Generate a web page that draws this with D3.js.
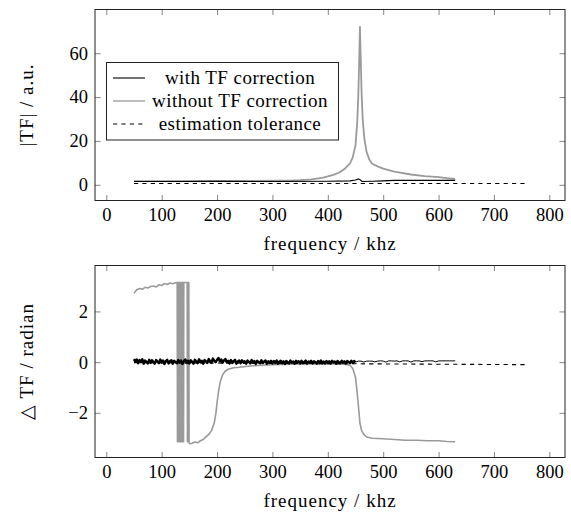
<!DOCTYPE html>
<html>
<head>
<meta charset="utf-8">
<script src="https://cdn.jsdelivr.net/npm/d3@7"></script>
<style>
  body { margin: 0; background: #fff; }
  svg { display: block; }
</style>
</head>
<body>
<svg id="chart" width="571" height="515"></svg>
<script>
// ---- data ----
const xTicks = [0, 100, 200, 300, 400, 500, 600, 700, 800];
const magTicks = [0, 20, 40, 60];
const phaseTicks = [-2, 0, 2];

const legendLabels = ["with TF correction", "without TF correction", "estimation tolerance"];

// |TF| with correction  [khz, a.u.]
const magWith = [[50, 1.5], [100, 1.5], [200, 1.55], [300, 1.5], [400, 1.6], [440, 1.8], [450, 2.2],
  [455, 2.7], [458, 2.4], [462, 1.5], [480, 1.6], [500, 1.8], [520, 2.0], [630, 2.0]];

// |TF| without correction
const magWithout = [[50, 1.7], [100, 1.7], [150, 1.65], [200, 1.75], [250, 1.75], [300, 1.85], [330, 1.95],
  [350, 2.1], [370, 2.5], [390, 3.2], [400, 3.8], [410, 4.5], [420, 5.5], [430, 7.2], [440, 9.8], [445, 12.5],
  [450, 18], [453, 28], [455, 40], [457, 60], [458, 72], [459, 62], [461, 42], [463, 30], [466, 21],
  [470, 15], [475, 11.5], [480, 9.6], [490, 8.4], [500, 7.4], [520, 6], [550, 4.7], [575, 4], [600, 3.5],
  [615, 3], [630, 2.7]];

const magTol = [[50, 0.6], [760, 0.6]];

// phase with correction: noisy part 50..450 every 2.5 khz, then 450..630 every 5 khz
const phaseWithA = [
  0.12, 0.02, 0.1, -0.04, 0.08, 0.0, 0.11, -0.06, 0.06, 0.01, -0.05, 0.09, -0.03, 0.07, 0.0, -0.06, 0.08, 0.02, -0.04, 0.1, -0.02,
  0.06, -0.07, 0.04, 0.09, -0.05, 0.03, 0.07, -0.06, 0.05, 0.0, -0.04, 0.08, -0.02, 0.06, -0.07, 0.03, 0.1, -0.03, 0.05, -0.05,
  0.07, 0.0, -0.06, 0.09, 0.02, -0.04, 0.11, -0.01, 0.05, -0.06, 0.08, 0.03, -0.03, 0.12, 0.02, -0.02, 0.14, 0.05, 0.0, 0.09,
  0.16, 0.03, 0.1, -0.02, 0.07, 0.12, 0.0, 0.05, -0.05, 0.08, -0.03, 0.04, 0.09, -0.06, 0.02, 0.06, -0.04, 0.07, -0.01, 0.03,
  -0.06, 0.06, 0.01, -0.05, 0.08, -0.02, 0.04, -0.07, 0.05, 0.0, -0.04, 0.07, -0.03, 0.02, 0.06, -0.06, 0.03, -0.02, 0.05, -0.05,
  0.04, -0.03, 0.06, -0.06, 0.01, 0.05, -0.04, 0.03, -0.07, 0.04, 0.0, -0.05, 0.06, -0.02, 0.02, -0.06, 0.05, -0.01, 0.03, -0.05,
  0.05, -0.04, 0.01, 0.06, -0.06, 0.02, -0.02, 0.05, -0.05, 0.03, 0.0, -0.06, 0.04, -0.03, 0.06, -0.04, 0.02, -0.05, 0.04, -0.02,
  0.03, -0.05, 0.05, -0.01, 0.02, -0.06, 0.04, 0.0, -0.04, 0.05, -0.02, 0.03, -0.05, 0.04, 0.01, -0.04, 0.05, -0.03, 0.04, 0.0];
const phaseWithB = [0.0,
  0.04, 0.04, 0.0, 0.04, 0.04, 0.04, 0.01, 0.04, 0.05, 0.04, 0.0, 0.05, 0.05, 0.04, 0.05, 0.01, 0.05, 0.05,
  0.05, 0.0, 0.05, 0.05, 0.05, 0.02, 0.05, 0.05, 0.05, 0.05, 0.01, 0.05, 0.05, 0.05, 0.05, 0.05, 0.05, 0.05];

// phase without correction (wraps between +pi and -pi around 130-150 khz)
const phaseWithout = [[50, 2.72], [55, 2.85], [60, 2.9], [65, 2.87], [70, 2.95], [75, 2.92], [80, 2.98], [85, 3.0],
  [90, 2.96], [95, 3.05], [100, 3.02], [105, 3.1], [110, 3.06], [115, 3.12], [120, 3.09], [125, 3.13],
  [128, 3.14], [128.5, -3.14], [129, 3.14], [129.5, -3.14], [130, 3.14], [130.5, -3.14], [131, 3.14], [131.5, -3.14],
  [132, 3.14], [132.5, -3.14], [133, 3.14], [133.5, -3.14], [134, 3.14], [134.5, -3.14], [135, 3.14], [135.5, -3.14],
  [136, 3.14], [136.5, -3.14], [137, 3.14], [137.5, -3.14], [138, 3.14], [138.5, -3.14], [139, 3.14], [139.5, -3.14],
  [140, 3.14], [146, 3.14], [146.5, -3.14], [147.5, -3.14], [148, 3.14], [149, 3.14], [149.5, -3.18], [152, -3.22],
  [155, -3.2], [160, -3.15], [165, -3.18], [170, -3.1], [175, -3.05], [180, -2.95], [185, -2.85], [190, -2.7],
  [195, -2.4], [198, -2.0], [200, -1.6], [203, -1.1], [206, -0.75], [210, -0.5], [215, -0.35], [220, -0.28],
  [230, -0.22], [240, -0.2], [260, -0.15], [280, -0.12], [300, -0.1], [330, -0.08], [360, -0.07], [400, -0.06],
  [430, -0.08], [440, -0.12], [445, -0.25], [450, -0.6], [453, -1.2], [456, -1.9], [458, -2.4], [461, -2.7],
  [465, -2.85], [470, -2.95], [480, -3.0], [500, -3.02], [520, -3.05], [540, -3.08], [560, -3.08], [580, -3.1],
  [600, -3.1], [615, -3.13], [630, -3.14]];

const phaseTol = [[50, -0.02], [760, -0.1]];

// ---- drawing ----
const svg = d3.select("#chart");
const left = 95, right = 565;
const grey = "#9a9a9a";
const font = '"Liberation Serif"';
const titleSize = 19;

const x = d3.scaleLinear().domain([-20.4, 828.3]).range([left, right]);

function panel(top, bottom, yDomain, yTicks, yTitle, series) {
  const y = d3.scaleLinear().domain(yDomain).range([bottom, top]);
  const g = svg.append("g");

  // clip so the lines stay in the frame
  const id = "clip" + Math.round(top);
  g.append("clipPath").attr("id", id)
    .append("rect").attr("x", left).attr("y", top).attr("width", right - left).attr("height", bottom - top);

  // ticks on all four sides, pointing inwards
  g.append("g").attr("transform", `translate(0,${bottom})`)
    .call(d3.axisBottom(x).tickValues(xTicks).tickSizeInner(-5.5).tickSizeOuter(0).tickPadding(7.5))
    .call(a => a.select(".domain").remove());
  g.append("g").attr("transform", `translate(0,${top})`)
    .call(d3.axisTop(x).tickValues(xTicks).tickSizeInner(-5.5).tickSizeOuter(0).tickFormat(""))
    .call(a => a.select(".domain").remove());
  g.append("g").attr("transform", `translate(${left},0)`)
    .call(d3.axisLeft(y).tickValues(yTicks).tickSizeInner(-5.5).tickSizeOuter(0).tickPadding(7))
    .call(a => a.select(".domain").remove());
  g.append("g").attr("transform", `translate(${right},0)`)
    .call(d3.axisRight(y).tickValues(yTicks).tickSizeInner(-5.5).tickSizeOuter(0).tickFormat(""))
    .call(a => a.select(".domain").remove());

  g.selectAll("g").attr("font-family", null);
  g.selectAll(".tick line").attr("stroke", "#666").attr("stroke-width", 0.8);
  g.selectAll(".tick text").attr("font-size", 18.5).attr("fill", "#000");

  const line = d3.line().x(d => x(d[0])).y(d => y(d[1]));
  const plot = g.append("g").attr("clip-path", `url(#${id})`);
  series.forEach(s => {
    plot.append("path").datum(s.data)
      .attr("d", line)
      .attr("fill", "none")
      .attr("stroke", s.color)
      .attr("stroke-width", s.width)
      .attr("stroke-linejoin", "round")
      .attr("stroke-dasharray", s.dash || null);
  });

  // frame
  g.append("rect").attr("x", left).attr("y", top).attr("width", right - left).attr("height", bottom - top)
    .attr("fill", "none").attr("stroke", "#222").attr("stroke-width", 1);

  // axis titles
  g.append("text").attr("x", (left + right) / 2).attr("y", bottom + 49)
    .attr("text-anchor", "middle").attr("font-size", titleSize).attr("letter-spacing", 1)
    .text("frequency / khz");
  g.append("text").attr("transform", `translate(33,${(top + bottom) / 2}) rotate(-90)`)
    .attr("text-anchor", "middle").attr("font-size", titleSize).attr("letter-spacing", 1)
    .text(yTitle);

  return { g, y };
}

// phase with correction as [khz, rad] lists
const phaseWithNoisy = phaseWithA.map((v, i) => [50 + i * 2.5, v]);
const phaseWithFlat = phaseWithB.map((v, i) => [450 + i * 5, v]);

const topPanel = panel(9.5, 200.5, [-7.15, 79.9], magTicks, "|TF| / a.u.", [
  { data: magWithout, color: grey, width: 1.8 },
  { data: magWith, color: "#000", width: 1.1 },
  { data: magTol, color: "#000", width: 1.1, dash: "4.2,4.2" }
]);

panel(265.5, 457.5, [-3.76, 3.81], phaseTicks, "\u25B3 TF / radian", [
  { data: phaseWithout, color: grey, width: 1.6 },
  { data: phaseWithNoisy, color: "#000", width: 2.5 },
  { data: phaseWithFlat, color: "#000", width: 1.0 },
  { data: phaseTol, color: "#000", width: 1.1, dash: "4.2,4.2" }
]);

// legend in the top panel
const legend = topPanel.g.append("g");
legend.append("rect").attr("x", 106.5).attr("y", 62.5).attr("width", 232).attr("height", 77.5)
  .attr("fill", "#fff").attr("stroke", "#222").attr("stroke-width", 1);
const legendStyle = [
  { color: "#000", width: 1.1 },
  { color: grey, width: 1.3 },
  { color: "#000", width: 1.1, dash: "4.2,4.2" }
];
const rowY = d3.scalePoint().domain(legendLabels).range([78, 124]);
legendLabels.forEach((label, i) => {
  const yy = rowY(label);
  legend.append("line").attr("x1", 113).attr("x2", 145).attr("y1", yy).attr("y2", yy)
    .attr("stroke", legendStyle[i].color).attr("stroke-width", legendStyle[i].width)
    .attr("stroke-dasharray", legendStyle[i].dash || null);
  legend.append("text").attr("x", 240).attr("y", yy + 6).attr("text-anchor", "middle")
    .attr("font-size", titleSize).attr("letter-spacing", 0.45).text(label);
});

// serif face on every text
svg.selectAll("text").style("font-family", font);
</script>
</body>
</html>
